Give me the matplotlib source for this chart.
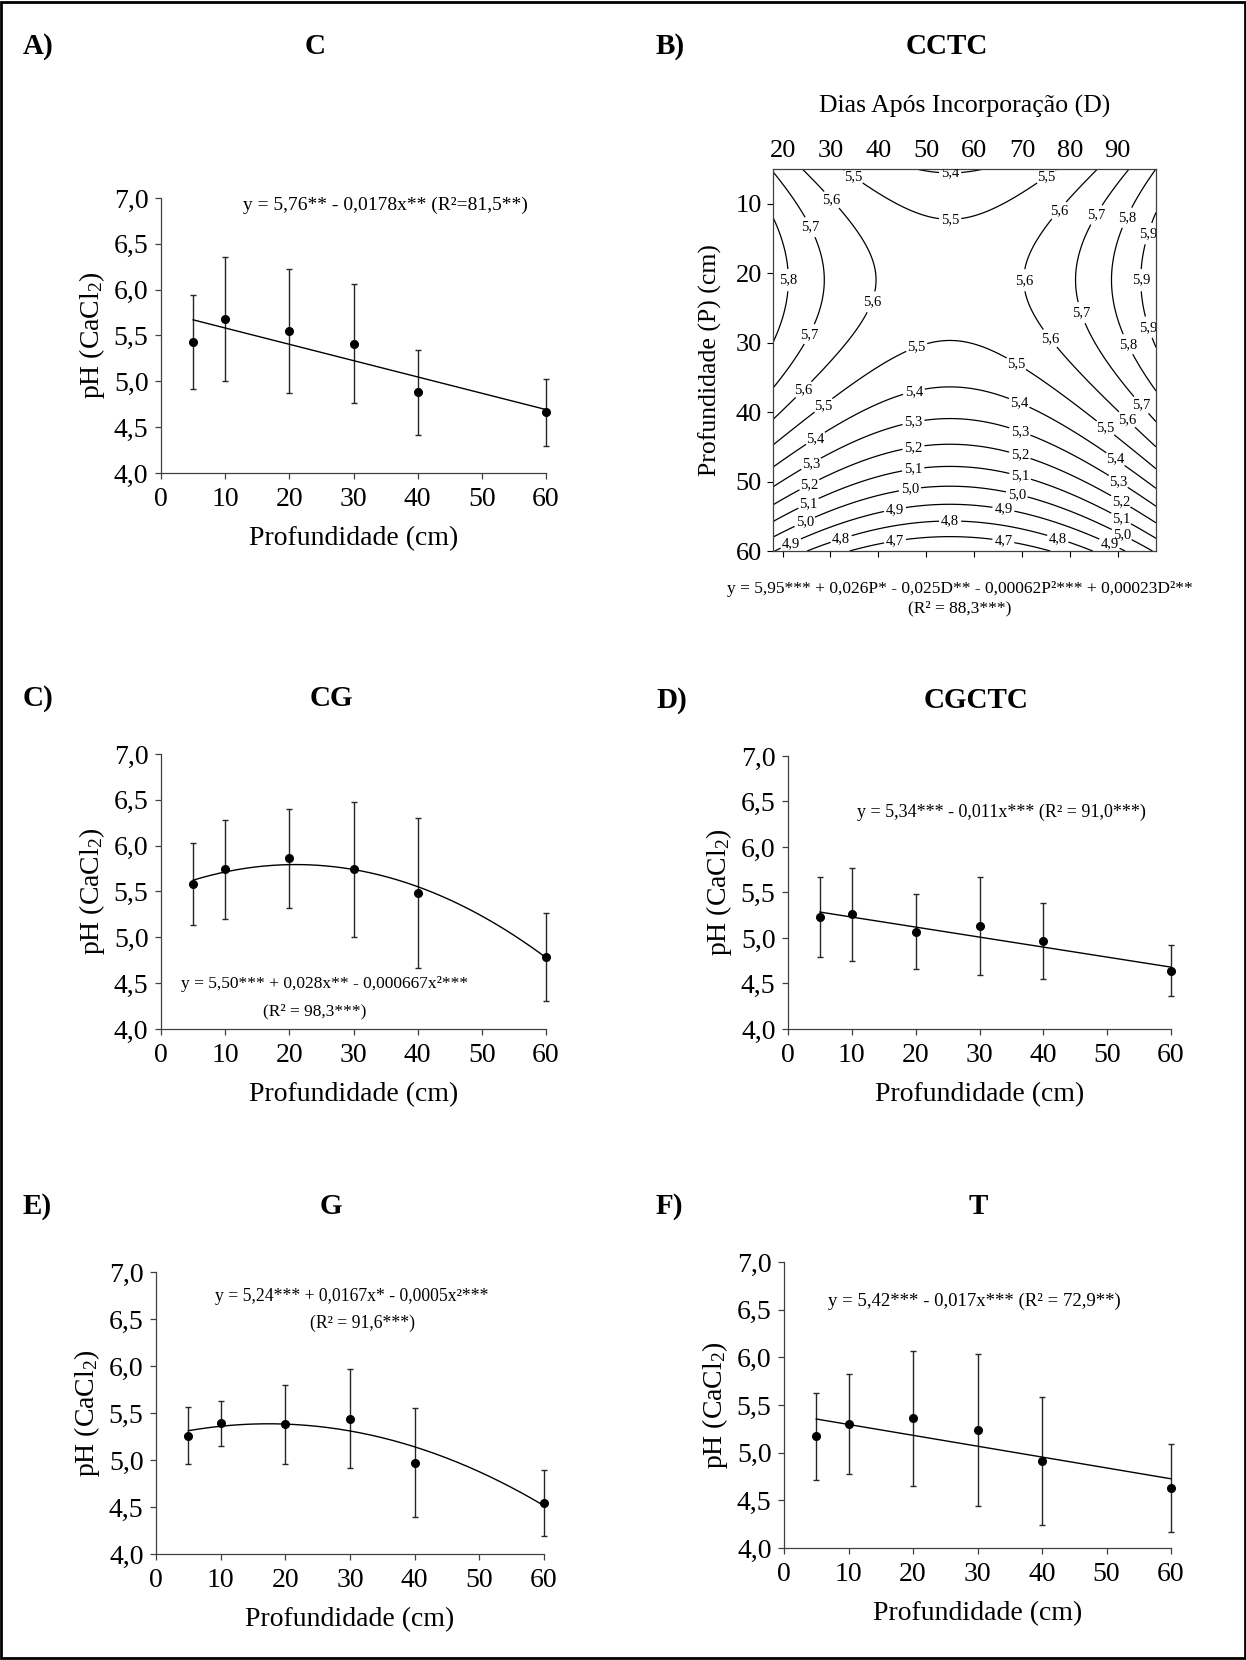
import numpy as np
import matplotlib.pyplot as plt
from matplotlib.patches import Rectangle

plt.rcParams['font.family'] = ['Liberation Serif', 'DejaVu Serif']
plt.rcParams['mathtext.default'] = 'regular'

# depths sampled (cm)
depth = [5, 10, 20, 30, 40, 60]

# mean pH and half-length of the error bars
ph_c = [5.43, 5.68, 5.55, 5.41, 4.88, 4.66]
err_c = [0.51, 0.68, 0.68, 0.65, 0.46, 0.37]
ph_cg = [5.58, 5.74, 5.86, 5.74, 5.48, 4.79]
err_cg = [0.45, 0.54, 0.54, 0.74, 0.82, 0.48]
ph_cgctc = [5.23, 5.26, 5.07, 5.13, 4.97, 4.64]
err_cgctc = [0.44, 0.51, 0.41, 0.54, 0.42, 0.28]
ph_g = [5.26, 5.39, 5.38, 5.44, 4.97, 4.54]
err_g = [0.30, 0.24, 0.42, 0.53, 0.58, 0.35]
ph_t = [5.17, 5.30, 5.36, 5.24, 4.91, 4.63]
err_t = [0.46, 0.52, 0.71, 0.80, 0.67, 0.46]

# fitted curves as drawn: a + b*x + c*x^2
fit_c = [5.76, -0.0178, 0.0]
fit_cg = [5.50, 0.028, -0.000667]
fit_cgctc = [5.34, -0.011, 0.0]
fit_g = [5.24, 0.0167, -0.00048]   # drawn curve sits a little above the printed 0.0005
fit_t = [5.41, -0.0114, 0.0]       # drawn line is flatter than the printed slope

# CCTC response surface as drawn: b0 + bP*P + bD*D + bPP*P^2 + bDD*D^2
# (the printed equation is rounded; these put the contours where the figure has them)
surf = [5.945, 0.026, -0.0244, -0.00062, 0.000222]
days_range = [18, 98]
depth_range = [5, 60]
levels = [4.7, 4.8, 4.9, 5.0, 5.1, 5.2, 5.3, 5.4, 5.5, 5.6, 5.7, 5.8, 5.9]

yticks = [4.0, 4.5, 5.0, 5.5, 6.0, 6.5, 7.0]
xticks = [0, 10, 20, 30, 40, 50, 60]

eq_c = ['y = 5,76** - 0,0178x** (R²=81,5**)']
eq_cg = ['y = 5,50*** + 0,028x** - 0,000667x²***', '(R² = 98,3***)']
eq_cgctc = ['y = 5,34*** - 0,011x*** (R² = 91,0***)']
eq_g = ['y = 5,24*** + 0,0167x* - 0,0005x²***', '(R² = 91,6***)']
eq_t = ['y = 5,42*** - 0,017x*** (R² = 72,9**)']
eq_cctc = ['y = 5,95*** + 0,026P* - 0,025D** - 0,00062P²*** + 0,00023D²**',
           '(R² = 88,3***)']

# where the contour labels sit (days, depth)
label_spots = [(34.4, 6.5), (55.0, 6.4), (75.5, 6.5), (29.8, 9.7), (25.4, 13.5),
               (55.0, 13.5), (78.3, 11.3), (86.0, 11.8), (92.2, 12.1), (96.4, 14.3),
               (20.8, 21.0), (37.6, 23.9), (71.7, 21.0), (94.7, 21.0), (82.8, 25.6),
               (96.4, 27.8), (25.4, 28.7), (76.2, 29.2), (92.2, 30.2), (47.7, 30.1),
               (69.2, 32.6), (24.3, 36.7), (28.5, 39.0), (47.3, 36.7), (69.6, 38.4),
               (94.7, 39.1), (91.9, 41.1), (87.4, 42.3), (26.8, 43.7), (47.3, 41.3),
               (69.6, 42.7), (89.4, 46.9), (26.1, 47.6), (47.3, 44.9), (69.6, 46.1),
               (90.1, 50.0), (25.7, 50.6), (47.3, 48.3), (69.6, 49.3), (90.5, 53.0),
               (25.4, 53.1), (46.6, 51.1), (68.9, 51.9), (90.5, 55.6), (24.7, 55.9),
               (43.5, 54.1), (66.1, 54.1), (90.8, 57.7), (21.9, 59.2), (32.3, 58.4),
               (55.0, 55.7), (43.5, 58.6), (66.1, 58.6), (77.4, 58.4), (88.1, 59.2)]

W, H = 1246, 1660
fig = plt.figure(figsize=(W / 100, H / 100), dpi=100)


def box(l, t, r, b):
    return [l / W, 1 - b / H, (r - l) / W, (b - t) / H]


def comma(v, nd=1):
    return f'{v:.{nd}f}'.replace('.', ',')


def heading(x_lab, x_tit, y, lab, tit):
    fig.text(x_lab / W, 1 - y / H, lab, fontsize=21, fontweight='bold', ha='left', va='center')
    fig.text(x_tit / W, 1 - y / H, tit, fontsize=21, fontweight='bold', ha='center', va='center')


def panel(rect, ph, err, fit, eq, eq_pos, eq_size):
    ax = fig.add_axes(rect)
    eb = ax.errorbar(depth, ph, yerr=err, fmt='o', color='black', ms=5.5,
                     ecolor='#262626', elinewidth=1, capsize=2.5, capthick=1)
    for art in eb.lines[0:1] + tuple(eb.lines[1]) + tuple(eb.lines[2]):
        art.set_clip_on(False)
    xs = np.linspace(depth[0], depth[-1], 200)
    ax.plot(xs, fit[0] + fit[1] * xs + fit[2] * xs ** 2, color='black', lw=1)
    ax.set_xlim(0, 60)
    ax.set_ylim(4, 7)
    ax.set_xticks(xticks)
    ax.set_yticks(yticks)
    ax.set_yticklabels([comma(v) for v in yticks])
    for s in ['top', 'right']:
        ax.spines[s].set_visible(False)
    for s in ['left', 'bottom']:
        ax.spines[s].set_color('#404040')
        ax.spines[s].set_linewidth(0.9)
    ax.tick_params(axis='both', labelsize=20, length=4, width=0.9, color='#404040')
    ax.tick_params(axis='y', pad=5)
    ax.tick_params(axis='x', pad=5.8)
    ax.set_xlabel('Profundidade (cm)', fontsize=20, labelpad=10.5)
    ax.set_ylabel('pH (CaCl$_2$)', fontsize=20, labelpad=5)
    for line, (px, py) in zip(eq, eq_pos):
        ax.text(px, py, line, transform=ax.transAxes, fontsize=eq_size, ha='center', va='center')
    return ax


heading(23, 315, 47, 'A)', 'C')
heading(656, 947, 47, 'B)', 'CCTC')
heading(23, 331, 698, 'C)', 'CG')
heading(656, 976, 700, 'D)', 'CGCTC')
heading(23, 331, 1207, 'E)', 'G')
heading(656, 978, 1207, 'F)', 'T')

panel(box(161, 198, 546, 473), ph_c, err_c, fit_c, eq_c, [(0.584, 0.975)], 14)
panel(box(161, 754, 546, 1029), ph_cg, err_cg, fit_cg, eq_cg, [(0.424, 0.165), (0.398, 0.063)], 12.5)
panel(box(788, 756, 1171, 1029), ph_cgctc, err_cgctc, fit_cgctc, eq_cgctc, [(0.558, 0.793)], 13)
panel(box(156, 1272, 544, 1554), ph_g, err_g, fit_g, eq_g, [(0.504, 0.913), (0.532, 0.817)], 12.7)
panel(box(784, 1262, 1171, 1548), ph_t, err_t, fit_t, eq_t, [(0.493, 0.863)], 13.5)

# contour panel
axb = fig.add_axes(box(773, 169, 1156, 551))
dd = np.linspace(days_range[0], days_range[1], 300)
pp = np.linspace(depth_range[0], depth_range[1], 300)
DD, PP = np.meshgrid(dd, pp)
Z = surf[0] + surf[1] * PP + surf[2] * DD + surf[3] * PP ** 2 + surf[4] * DD ** 2
cs = axb.contour(DD, PP, Z, levels=levels, colors='black', linewidths=0.9)
labels = axb.clabel(cs, fmt=lambda v: comma(v), fontsize=10.5, inline=True, inline_spacing=2,
                    manual=label_spots)
for t in labels:
    t.set_rotation(0)
axb.set_xlim(days_range)
axb.set_ylim(depth_range[1], depth_range[0])
axb.set_xticks(range(20, 91, 10))
axb.set_yticks(range(10, 61, 10))
axb.tick_params(axis='x', top=False, bottom=True, labeltop=True, labelbottom=False,
                labelsize=19, length=4, pad=1)
axb.tick_params(axis='y', labelsize=19, length=4, pad=4)
for s in axb.spines.values():
    s.set_linewidth(0.9)
    s.set_color('#404040')
axb.xaxis.set_label_position('top')
axb.set_xlabel('Dias Após Incorporação (D)', fontsize=18.5, labelpad=19.5)
axb.set_ylabel('Profundidade (P) (cm)', fontsize=18.5, labelpad=9.5)
fig.text(960 / W, 1 - 589 / H, eq_cctc[0], fontsize=12.5, ha='center', va='center')
fig.text(960 / W, 1 - 608 / H, eq_cctc[1], fontsize=12.5, ha='center', va='center')

fig.patches.append(Rectangle((0.001, 0.001), 0.998, 0.998, transform=fig.transFigure,
                             fill=False, lw=2, ec='black'))

fig.savefig('out.png', dpi=100)
